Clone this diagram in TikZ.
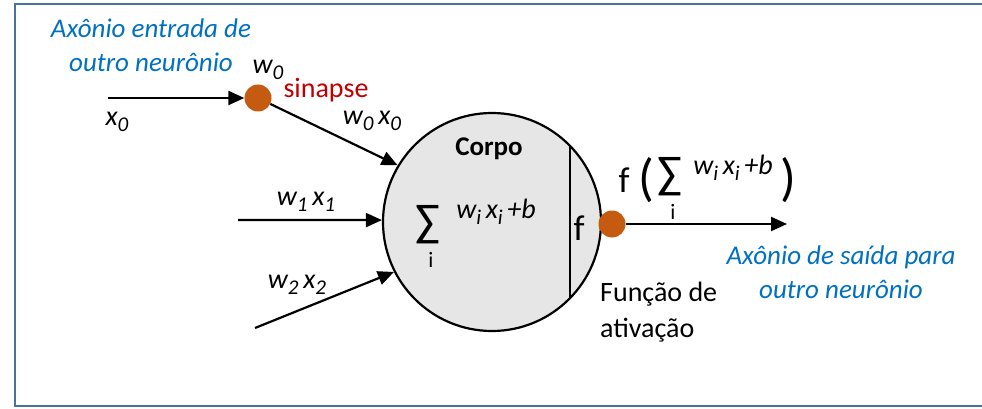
\documentclass[tikz,border=0pt]{standalone}
\usepackage{fontspec}
\setmainfont{Carlito}
\usetikzlibrary{arrows.meta}
\definecolor{frameblue}{HTML}{4A72A0}
\definecolor{txtblue}{HTML}{0070C0}
\definecolor{txtred}{HTML}{C00000}
\definecolor{dotorange}{HTML}{C55A11}
\definecolor{bodygray}{HTML}{E6E6E6}
\newcommand{\sbs}[1]{\raisebox{-0.45ex}{\fontsize{21}{21}\selectfont #1}}
\newcommand{\bigsum}{{\fontsize{46}{46}\selectfont ∑}}
\tikzset{
  txt/.style={font=\fontsize{28}{32}\selectfont, inner sep=0pt, align=center},
  itxt/.style={txt, font=\fontsize{28}{34}\selectfont\itshape},
  bluetxt/.style={itxt, font=\fontsize{27}{34}\selectfont\itshape, text=txtblue},
  dotnode/.style={circle, fill=dotorange, minimum size=27pt, inner sep=0pt},
  arr/.style={line width=2.2pt, -{Triangle[length=16pt,width=14pt]}},
}
\begin{document}
\begin{tikzpicture}[x=1pt,y=-1pt]
\useasboundingbox (0,0) rectangle (982,409);
\draw[frameblue, line width=2.5pt] (1000,4) -- (15,4) -- (15,406) -- (1000,406);
% body
\node[circle, draw, line width=2.2pt, fill=bodygray, minimum size=218pt, inner sep=0pt] (body) at (492,222) {};
\draw[line width=2pt] (570,146) -- (570,298);
\node[txt, font=\fontsize{27}{30}\selectfont\bfseries] (corpo) at (489,149) {Corpo};
\node[txt] (sum1) at (428,225) {\bigsum};
\node[txt, font=\fontsize{22}{24}\selectfont] (i1) at (431,260) {i};
\node[itxt] (wx1) at (496,212) {w\sbs{i}\,x\sbs{i}\,+b};
\node[txt, font=\fontsize{36}{40}\selectfont] (f1) at (579,228) {f};
% input synapse
\node[dotnode] (s0) at (258,98) {};
\coordinate (x0s) at (108,98);
\draw[arr] (x0s) -- (s0);
\draw[arr] (s0) -- (body.149);
\node[itxt] (x0) at (117,122) {x\sbs{0}};
\node[itxt] (w0) at (268,70) {w\sbs{0}};
\node[txt, text=txtred] (sin) at (326,90) {sinapse};
\node[itxt] (w0x0) at (372,121) {w\sbs{0}\,x\sbs{0}};
% other inputs
\coordinate (x1s) at (238,220);
\draw[arr] (x1s) -- (body.179);
\node[itxt] (w1x1) at (306,202) {w\sbs{1}\,x\sbs{1}};
\coordinate (x2s) at (255,328);
\draw[arr] (x2s) -- (body.207);
\node[itxt] (w2x2) at (297,285) {w\sbs{2}\,x\sbs{2}};
% output
\node[dotnode] (sout) at (612,224) {};
\coordinate (oute) at (787,224);
\draw[arr] (sout) -- (oute);
\node[txt, font=\fontsize{36}{40}\selectfont] (f2) at (624,180) {f};
\node[txt, font=\fontsize{52}{54}\selectfont] (lp) at (646,180) {(};
\node[txt] (sum2) at (670,177) {\bigsum};
\node[txt, font=\fontsize{22}{24}\selectfont] (i2) at (673,212) {i};
\node[itxt] (wx2) at (733,168) {w\sbs{i}\,x\sbs{i}\,+b};
\node[txt, font=\fontsize{52}{54}\selectfont] (rp) at (788,180) {)};
\node[txt, align=left, anchor=north west, font=\fontsize{28}{36}\selectfont] (fa) at (600,282) {Função de\\ativação};
% blue labels
\node[bluetxt] (ain) at (151,45) {Axônio entrada de\\outro neurônio};
\node[bluetxt] (aout) at (841,272) {Axônio de saída para\\outro neurônio};
\end{tikzpicture}
\end{document}
